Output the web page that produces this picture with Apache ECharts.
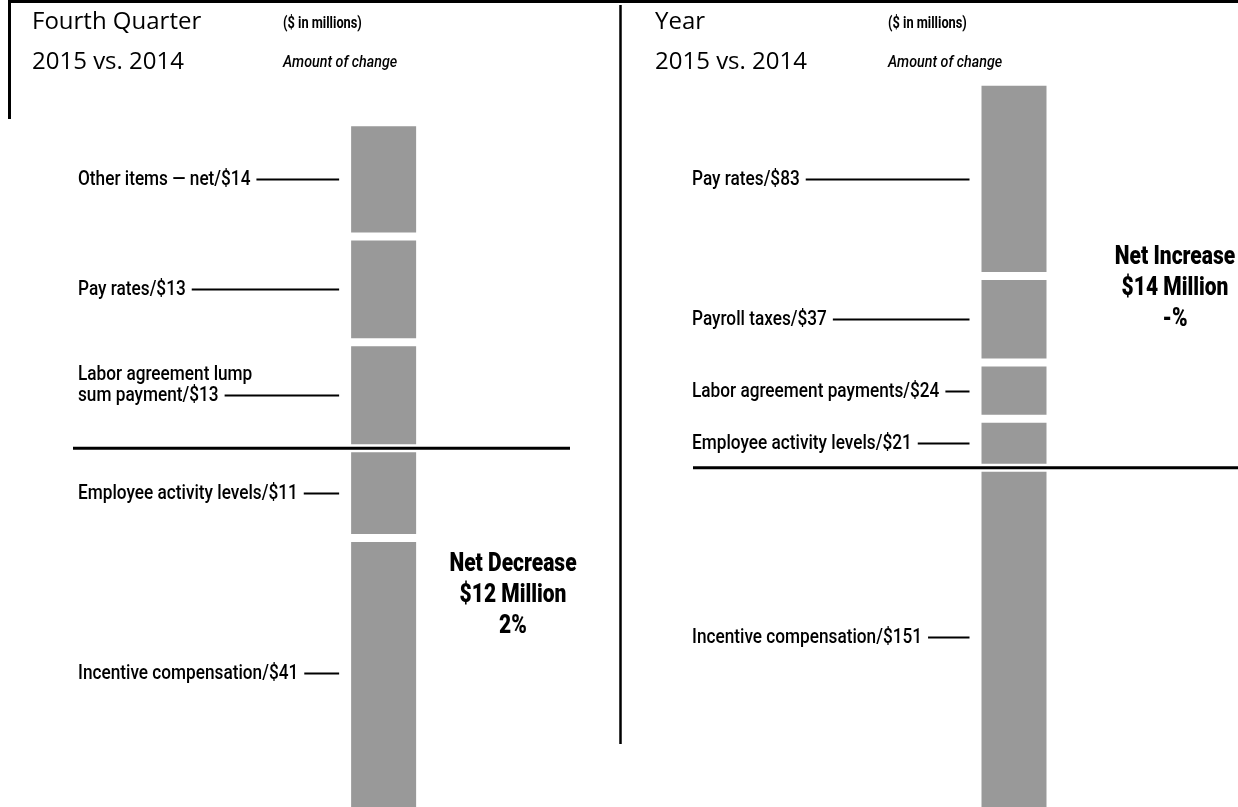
<!DOCTYPE html>
<html>
<head>
<meta charset="utf-8">
<script src="https://cdn.jsdelivr.net/npm/echarts@6/dist/echarts.min.js"></script>
<style>
  html, body { margin: 0; padding: 0; background: #fff; }
  #chart { width: 1238px; height: 807px; }
</style>
</head>
<body>
<div id="chart"></div>
<script>
// data ($ in millions)
const panelTitles = ["Fourth Quarter", "Year"];
const panelSubtitle = "2015 vs. 2014";
const unitNote = "($ in millions)";
const changeNote = "Amount of change";

const q4Names = ["Other items \u2014 net", "Pay rates", "Labor agreement lump\nsum payment", "Employee activity levels", "Incentive compensation"];
const q4Values = [14, 13, 13, -11, -41];

const yearNames = ["Pay rates", "Payroll taxes", "Labor agreement payments", "Employee activity levels", "Incentive compensation"];
const yearValues = [83, 37, 24, 21, -151];

const netPercents = ["2%", "-%"];

// no condensed face is installed, so the narrow look is made with a horizontal squeeze
const BASE = "Roboto, 'Liberation Sans', sans-serif";
const LABEL_FONT = `500 21px ${BASE}`;
const SQUEEZE = 0.82;
const BAR_GRAY = "#999999";

const measure = document.createElement("canvas").getContext("2d");
measure.font = LABEL_FONT;

// layout of the two panels
const panels = [
  { names: q4Names, values: q4Values, grid: { left: 73, width: 497, top: 0, bottom: 0 },
    yMin: -44, yMax: 55, barX: 62.5, textX: 78, netX: 513, netY: 596, titleX: 32, noteX: 283 },
  { names: yearNames, values: yearValues, grid: { left: 693, right: 0, top: 0, bottom: 0 },
    yMin: -145, yMax: 200, barX: 58.9, textX: 692, netX: 1175, netY: 289, titleX: 655, noteX: 888 }
];
const BAR_WIDTH = 65;
const GAP = 8;

// positive items stack upward from the baseline (last listed sits on it), negatives stack downward
function segments(values) {
  const segs = values.map(() => ({}));
  let up = 0;
  for (let i = values.length - 1; i >= 0; i--) {
    if (values[i] > 0) { segs[i] = { start: up, end: up + values[i] }; up += values[i]; }
  }
  let down = 0;
  values.forEach((v, i) => {
    if (v < 0) { segs[i] = { start: down, end: down + v }; down += v; }
  });
  return segs;
}

const series = [];
const grids = [], xAxes = [], yAxes = [];
const graphics = [];

panels.forEach((p, pi) => {
  grids.push(p.grid);
  xAxes.push({ type: "value", gridIndex: pi, min: 0, max: 100, show: false });
  yAxes.push({ type: "value", gridIndex: pi, min: p.yMin, max: p.yMax, show: false });

  const segs = segments(p.values);

  // zero baseline
  series.push({
    type: "line",
    xAxisIndex: pi,
    yAxisIndex: pi,
    silent: true,
    symbol: "none",
    z: 5,
    lineStyle: { color: "#000", width: 3 },
    data: [[0, 0], [100, 0]]
  });

  // stacked segments with their labels and leader lines
  series.push({
    type: "custom",
    xAxisIndex: pi,
    yAxisIndex: pi,
    silent: true,
    clip: false,
    data: segs.map((s) => [p.barX, s.start, s.end]),
    renderItem: (params, api) => {
      const i = params.dataIndex;
      const a = api.coord([api.value(0), api.value(1)]);
      const b = api.coord([api.value(0), api.value(2)]);
      const h = api.getHeight();
      const y0 = Math.min(a[1], b[1]);
      const y1 = Math.max(a[1], b[1]);
      const top = Math.max(0, y0);
      const bottom = Math.min(h, y1);
      const y = Math.round((top + bottom) / 2) + 0.5;
      const text = `${p.names[i]}/$${Math.abs(p.values[i])}`;
      const lines = text.split("\n");
      const lastWidth = measure.measureText(lines[lines.length - 1]).width * SQUEEZE;
      const barLeft = a[0] - BAR_WIDTH / 2;
      return {
        type: "group",
        children: [
          { type: "rect", shape: { x: barLeft, y: y0 + GAP / 2, width: BAR_WIDTH, height: y1 - y0 - GAP },
            style: { fill: BAR_GRAY } },
          { type: "line", shape: { x1: p.textX + lastWidth + 6, y1: y, x2: barLeft - 12, y2: y },
            style: { stroke: "#000", lineWidth: 2 } },
          { type: "text", x: p.textX, y: y + 11, scaleX: SQUEEZE,
            style: { text, font: LABEL_FONT, fill: "#000", align: "left", verticalAlign: "bottom", lineHeight: 21 } }
        ]
      };
    }
  });

  const net = p.values.reduce((s, v) => s + v, 0);
  graphics.push(
    { type: "text", x: p.titleX, y: 22,
      style: { text: panelTitles[pi], font: "24px 'Open Sans', sans-serif", fill: "#000", verticalAlign: "middle" } },
    { type: "text", x: p.titleX, y: 62,
      style: { text: panelSubtitle, font: "24px 'Open Sans', sans-serif", fill: "#000", verticalAlign: "middle" } },
    { type: "text", x: p.noteX, y: 24, scaleX: 0.8,
      style: { text: unitNote, font: `bold 16px ${BASE}`, fill: "#000", verticalAlign: "middle" } },
    { type: "text", x: p.noteX, y: 63, scaleX: 0.84,
      style: { text: changeNote, font: `italic 500 17px ${BASE}`, fill: "#000", verticalAlign: "middle" } },
    { type: "text", x: p.netX, y: p.netY, scaleX: 0.84,
      style: {
        text: `Net ${net < 0 ? "Decrease" : "Increase"}\n$${Math.abs(net)} Million\n${netPercents[pi]}`,
        font: `900 25px ${BASE}`, fill: "#000", align: "center", verticalAlign: "middle", lineHeight: 31
      } }
  );
});

// frame rules
graphics.push(
  { type: "line", shape: { x1: 8, y1: 1.5, x2: 1238, y2: 1.5 }, style: { stroke: "#000", lineWidth: 3 } },
  { type: "line", shape: { x1: 9.5, y1: 0, x2: 9.5, y2: 119 }, style: { stroke: "#000", lineWidth: 3 } },
  { type: "line", shape: { x1: 620.5, y1: 5, x2: 620.5, y2: 744 }, style: { stroke: "#000", lineWidth: 2.5 } }
);

const chart = echarts.init(document.getElementById("chart"));
chart.setOption({
  animation: false,
  backgroundColor: "#ffffff",
  grid: grids,
  xAxis: xAxes,
  yAxis: yAxes,
  series,
  graphic: graphics
});
</script>
</body>
</html>
